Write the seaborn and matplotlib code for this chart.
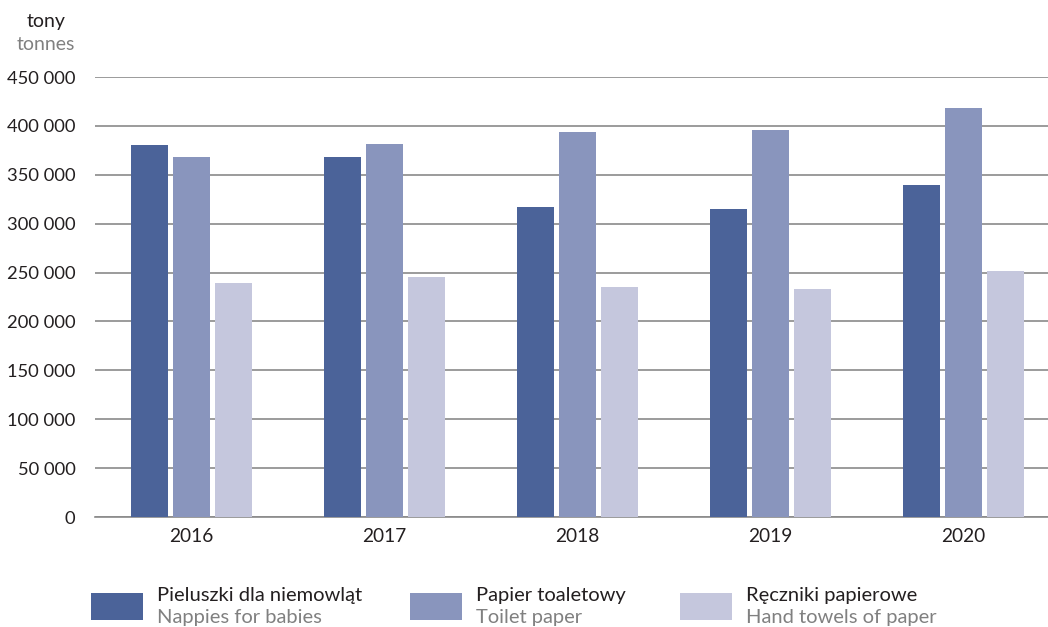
import matplotlib
matplotlib.use("Agg")
import matplotlib.pyplot as plt
from matplotlib.patches import Rectangle
import seaborn as sns
import pandas as pd

years = ["2016", "2017", "2018", "2019", "2020"]
nappies = [380000, 368000, 317000, 315000, 339500]
toilet_paper = [368000, 381500, 393500, 395800, 418300]
hand_towels = [239300, 245500, 235200, 233200, 251600]

series_pl = ["Pieluszki dla niemowląt", "Papier toaletowy", "Ręczniki papierowe"]
series_en = ["Nappies for babies", "Toilet paper", "Hand towels of paper"]
colors = ["#4B6399", "#8995BD", "#C5C7DD"]
yticks = [0, 50000, 100000, 150000, 200000, 250000, 300000, 350000, 400000, 450000]
ytick_labels = ["0", "50 000", "100 000", "150 000", "200 000", "250 000",
                "300 000", "350 000", "400 000", "450 000"]

rows = []
for vals, name in zip([nappies, toilet_paper, hand_towels], series_pl):
    for y, v in zip(years, vals):
        rows.append({"year": y, "series": name, "value": v})
df = pd.DataFrame(rows)

sns.set_theme(style="white")
plt.rcParams["font.family"] = ["Lato", "DejaVu Sans"]

fig = plt.figure(figsize=(10.48, 6.27), dpi=100)
ax = fig.add_axes([95 / 1048, 110 / 627, 953 / 1048, 440 / 627])

sns.barplot(data=df, x="year", y="value", hue="series", order=years,
            hue_order=series_pl, palette=colors, width=0.655, gap=0.11,
            saturation=1, legend=False, ax=ax, zorder=3, linewidth=0,
            edgecolor="none")

ax.set_ylim(0, 450000)
ax.set_xlim(-0.5, -0.5 + 953 / 193)
ax.set_yticks(yticks)
ax.set_yticklabels(ytick_labels)
ax.yaxis.grid(True, color="#8a8a8a", linewidth=1.2, zorder=0)
ax.set_axisbelow(True)
for s in ["top", "right", "left"]:
    ax.spines[s].set_visible(False)
ax.spines["bottom"].set_color("#8a8a8a")
ax.spines["bottom"].set_linewidth(1.2)
ax.tick_params(axis="y", length=0, pad=14, labelsize=13.2, labelcolor="#231F20")
ax.tick_params(axis="x", length=0, pad=8, labelsize=13.8, labelcolor="#231F20")
ax.set_xlabel("")
ax.set_ylabel("")

fig.text(46 / 1048, 1 - 21 / 627, "tony", ha="center", va="center",
         fontsize=14, color="#231F20")
fig.text(46 / 1048, 1 - 45 / 627, "tonnes", ha="center", va="center",
         fontsize=14, color="#808080")

legend_x = [91, 410, 680]
for lx, col, pl, en in zip(legend_x, colors, series_pl, series_en):
    fig.add_artist(Rectangle((lx / 1048, 1 - 620 / 627), 52 / 1048, 27 / 627,
                             transform=fig.transFigure, facecolor=col,
                             edgecolor="none"))
    fig.text((lx + 66) / 1048, 1 - 595 / 627, pl, ha="left", va="center",
             fontsize=14.5, color="#231F20")
    fig.text((lx + 66) / 1048, 1 - 618 / 627, en, ha="left", va="center",
             fontsize=14.5, color="#808080")

fig.savefig("out.png", dpi=100)
